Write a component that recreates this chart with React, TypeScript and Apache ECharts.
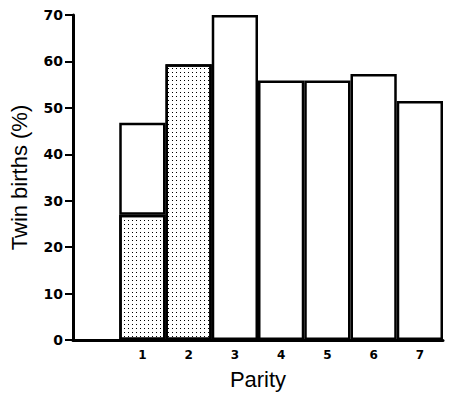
import React, { useEffect, useRef } from "react";
import * as echarts from "echarts";

const categories = ["", "1", "2", "3", "4", "5", "6", "7"];
const stippledValues: (number | string)[] = ["-", 27, 59.4, "-", "-", "-", "-", "-"];
const openValues: (number | string)[] = ["-", 19.8, "-", 70, 55.9, 55.9, 57.3, 51.5];
const yTicks = { min: 0, max: 70, interval: 10 };

export default function App() {
  const ref = useRef<HTMLDivElement>(null);
  useEffect(() => {
    if (!ref.current) return;
    const chart = echarts.init(ref.current, null, { renderer: "svg" });
    const font = "'Liberation Sans', Arial, sans-serif";
    const labelFont = "'DejaVu Sans', sans-serif";
    chart.setOption({
      animation: false,
      backgroundColor: "#fff",
      grid: { left: 68, right: 7, top: 15, bottom: 59 },
      xAxis: {
        type: "category",
        data: categories,
        boundaryGap: true,
        axisLine: { lineStyle: { color: "#000", width: 3 } },
        axisTick: { show: false },
        axisLabel: { color: "#000", fontFamily: labelFont, fontWeight: "bold", fontSize: 12, margin: 9 },
        name: "Parity",
        nameLocation: "middle",
        nameGap: 28,
        nameTextStyle: { color: "#000", fontFamily: font, fontSize: 22 },
      },
      yAxis: {
        type: "value",
        min: yTicks.min,
        max: yTicks.max,
        interval: yTicks.interval,
        splitLine: { show: false },
        axisLine: { show: true, lineStyle: { color: "#000", width: 3 } },
        axisTick: { show: true, length: 8, lineStyle: { color: "#000", width: 2 } },
        axisLabel: { color: "#000", fontFamily: labelFont, fontWeight: "bold", fontSize: 14, margin: 10 },
        name: "Twin births (%)",
        nameLocation: "middle",
        nameGap: 43,
        nameTextStyle: { color: "#000", fontFamily: font, fontSize: 22 },
      },
      series: [
        {
          type: "bar",
          stack: "t",
          data: stippledValues,
          barCategoryGap: "0%",
          itemStyle: {
            color: "#fff",
            borderColor: "#000",
            borderWidth: 2.5,
            decal: {
              symbol: "rect",
              symbolSize: 1,
              color: "#000",
              dashArrayX: [1, 3],
              dashArrayY: [1, 3],
              rotation: 0,
            },
          },
        },
        {
          type: "bar",
          stack: "t",
          data: openValues,
          barCategoryGap: "0%",
          itemStyle: { color: "#fff", borderColor: "#000", borderWidth: 2.5 },
        },
      ],
    });
    return () => chart.dispose();
  }, []);
  return <div ref={ref} style={{ width: 450, height: 399, position: "absolute", left: 0, top: 0 }} />;
}
